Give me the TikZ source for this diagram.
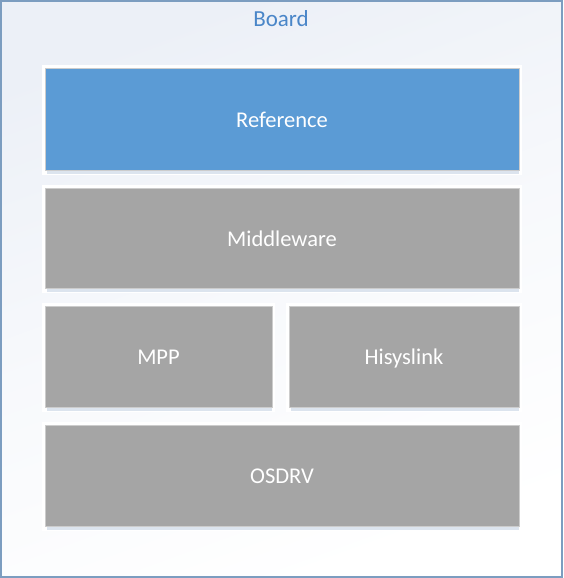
\documentclass[tikz,border=0pt]{standalone}
\usepackage{fontspec}
\setmainfont{Carlito}
\definecolor{frameblue}{HTML}{7C9DC0}
\definecolor{titleblue}{HTML}{4A86C8}
\definecolor{refblue}{HTML}{5B9BD5}
\definecolor{boxgray}{HTML}{A5A5A5}
\definecolor{bgtop}{HTML}{ECF0F7}
\definecolor{shadowc}{HTML}{DCE4EE}
\begin{document}
\begin{tikzpicture}[x=1pt,y=-1pt,
  layer/.style={draw=black!20, line width=0.8pt, text=white, inner sep=0pt,
    text height=16pt, text depth=0pt,
    font=\fontsize{22.5}{26}\selectfont},
  halo/.style={fill=white},
  shad/.style={fill=shadowc}]
\useasboundingbox (0,0) rectangle (563,578);
\shade[top color=bgtop, bottom color=white, middle color=white!60!bgtop, shading angle=20] (0,0) rectangle (563,578);
\draw[frameblue, line width=2pt] (1,1) rectangle (562,577);
\node[text=titleblue, font=\fontsize{23}{27}\selectfont] (board) at (281,19) {Board};
% halos and shadows
\foreach \a/\b/\c/\d in {45/68/519/170, 45/188/519/288, 45/306/272/407, 289/306/519/407, 45/425/519/526}{
  \fill[halo] (\a-3,\b-3) rectangle (\c+3,\d+5);
  \fill[shad] (\a+2,\d) rectangle (\c,\d+4);
}
\node[layer, fill=refblue, minimum width=474pt, minimum height=102pt] (ref) at (282,119) {Reference};
\node[layer, fill=boxgray, minimum width=474pt, minimum height=100pt] (mid) at (282,238) {Middleware};
\node[layer, fill=boxgray, minimum width=227pt, minimum height=101pt] (mpp) at (158.5,356.5) {MPP};
\node[layer, fill=boxgray, minimum width=230pt, minimum height=101pt] (hisys) at (404,356.5) {Hisyslink};
\node[layer, fill=boxgray, minimum width=474pt, minimum height=101pt] (osdrv) at (282,475.5) {OSDRV};
\end{tikzpicture}
\end{document}
